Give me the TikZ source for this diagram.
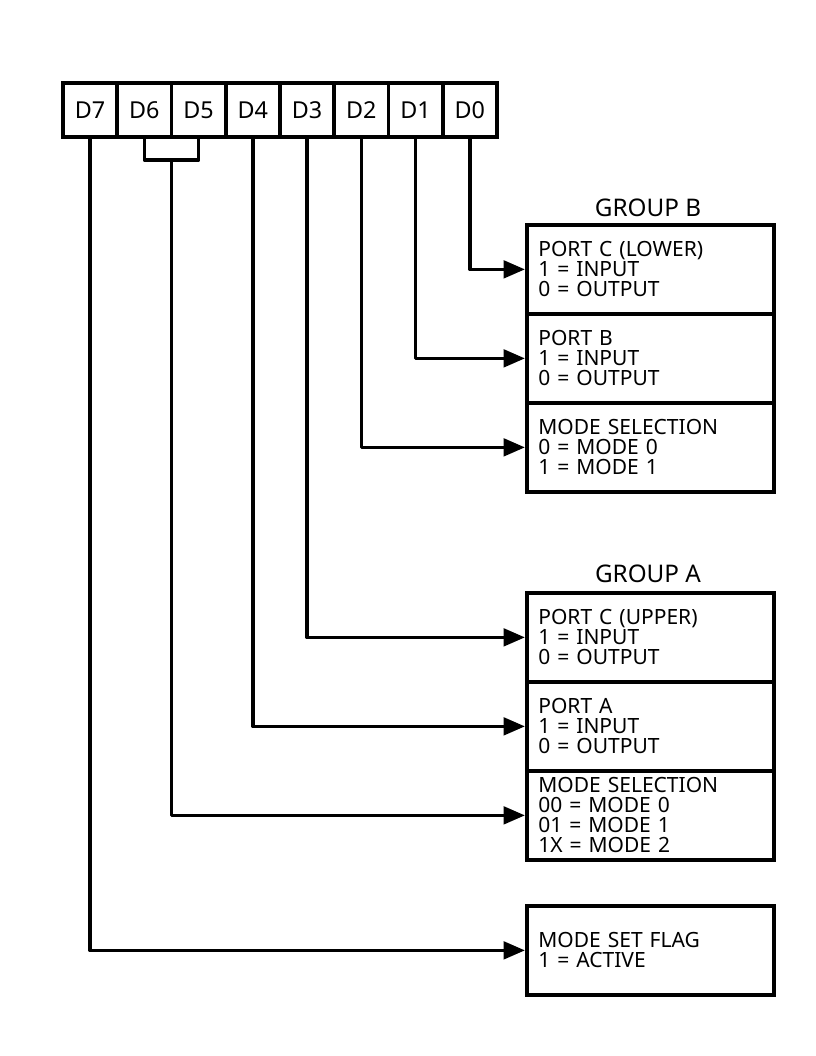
\documentclass[tikz,border=0pt]{standalone}
\usepackage{fontspec}
\setmainfont{Noto Sans}
\usetikzlibrary{arrows.meta,calc}
\begin{document}
\begin{tikzpicture}[x=0.75pt,y=-0.75pt,
  bitbox/.style={draw,line width=2.8pt,minimum width=40.7pt,minimum height=40.5pt,inner sep=0pt,font=\fontsize{17.5}{17}\selectfont},
  infobox/.style={draw,line width=2.8pt,minimum width=185.25pt,minimum height=66.75pt,anchor=north west,
    inner xsep=8.5pt,inner ysep=0pt,text width=168pt,align=left,font=\fontsize{15.75}{15}\selectfont},
  grouplabel/.style={font=\fontsize{18.2}{20}\selectfont,inner sep=0pt},
  conn/.style={line width=2.8pt,line join=round,-{Triangle[length=16pt,width=13pt]}},
  plain/.style={line width=2.8pt,line join=round}]
\useasboundingbox (0,0) rectangle (816,1056);
% bit boxes
\foreach \n [count=\i from 0] in {7,6,5,4,3,2,1,0}{
  \node[bitbox] (d\n) at ({63+54.25*(\i+0.5)},110) {D\n};
}
% group B
\node[grouplabel] (gb) at (648,208) {GROUP B};
\node[infobox] (pcl) at (525,223) {PORT C (LOWER)\\1 = INPUT\\0 = OUTPUT};
\node[infobox] (pb) at (525,312) {PORT B\\1 = INPUT\\0 = OUTPUT};
\node[infobox] (msb) at (525,401) {MODE SELECTION\\0 = MODE 0\\1 = MODE 1};
% group A
\node[grouplabel] (ga) at (648,574) {GROUP A};
\node[infobox] (pcu) at (525,591) {PORT C (UPPER)\\1 = INPUT\\0 = OUTPUT};
\node[infobox] (pa) at (525,680) {PORT A\\1 = INPUT\\0 = OUTPUT};
\node[infobox] (msa) at (525,769) {MODE SELECTION\\00 = MODE 0\\01 = MODE 1\\1X = MODE 2};
% mode set flag
\node[infobox] (msf) at (525,904) {MODE SET FLAG\\1 = ACTIVE};
% connectors
\draw[conn] (d0.south) |- (pcl.west);
\draw[conn] (d1.south) |- (pb.west);
\draw[conn] (d2.south) |- (msb.west);
\draw[conn] (d3.south) |- (pcu.west);
\draw[conn] (d4.south) |- (pa.west);
\draw[plain] (d6.south) -- ++(0,21) coordinate (br6) -| (d5.south);
\coordinate (brm) at ($(br6)!0.5!(br6 -| d5.south)$);
\draw[conn] (brm) |- (msa.west);
\draw[conn] (d7.south) |- (msf.west);
\end{tikzpicture}
\end{document}
